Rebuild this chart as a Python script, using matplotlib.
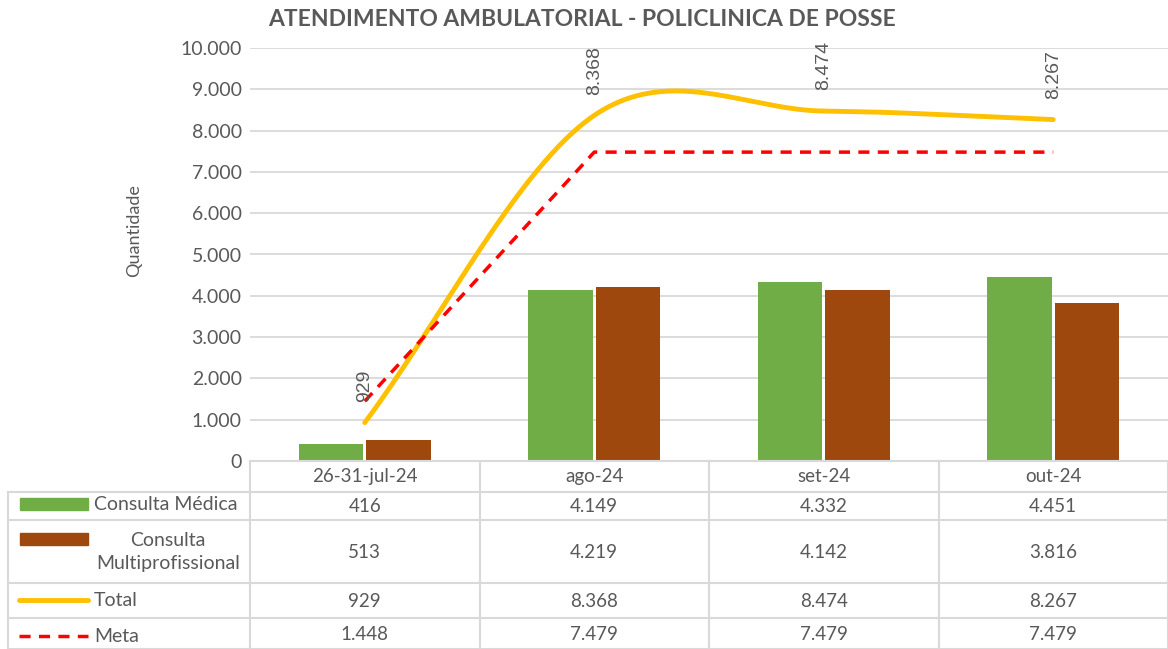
import numpy as np
import matplotlib.pyplot as plt
from matplotlib.patches import Rectangle
from matplotlib.lines import Line2D

categories = ["26-31-jul-24", "ago-24", "set-24", "out-24"]
consulta_medica = [416, 4149, 4332, 4451]
consulta_multi = [513, 4219, 4142, 3816]
total = [929, 8368, 8474, 8267]
meta = [1448, 7479, 7479, 7479]

GREEN = "#70AD47"
BROWN = "#9E480E"
YELLOW = "#FFC000"
RED = "#FF0000"
GRID = "#D9D9D9"
TXT = "#595959"

W, H = 1168, 649


def fmt(v):
    return f"{v:,}".replace(",", ".")


def smooth(y, n=60):
    # Catmull-Rom with reflected end points, close to Excel's smoothed line
    y = np.asarray(y, float)
    p = np.concatenate([[2 * y[0] - y[1]], y, [2 * y[-1] - y[-2]]])
    xs, ys = [], []
    for i in range(len(y) - 1):
        p0, p1, p2, p3 = p[i], p[i + 1], p[i + 2], p[i + 3]
        m1 = (p2 - p0) / 2
        m2 = (p3 - p1) / 2
        t = np.linspace(0, 1, n)
        h00 = 2 * t**3 - 3 * t**2 + 1
        h10 = t**3 - 2 * t**2 + t
        h01 = -2 * t**3 + 3 * t**2
        h11 = t**3 - t**2
        xs.append(i + t)
        ys.append(h00 * p1 + h10 * m1 + h01 * p2 + h11 * m2)
    return np.concatenate(xs), np.concatenate(ys)


plt.rcParams['font.family'] = ['Lato', 'DejaVu Sans']
fig = plt.figure(figsize=(W / 100, H / 100), dpi=100)

# main plot area in pixels
x0, x1, ytop, ybot = 250, 1168, 48, 461
ax = fig.add_axes([x0 / W, (H - ybot) / H, (x1 - x0) / W, (ybot - ytop) / H])

x = np.arange(len(categories))
bw = 0.28
ax.bar(x - 0.147, consulta_medica, bw, color=GREEN, zorder=2)
ax.bar(x + 0.147, consulta_multi, bw, color=BROWN, zorder=2)

sx, sy = smooth(total)
ax.plot(sx, sy, color=YELLOW, lw=3.5, solid_capstyle='round', zorder=3)
ax.plot(x, meta, color=RED, lw=2.5, dashes=(3.2, 2.4), zorder=3)

for xi, v in zip(x, total):
    ax.annotate(fmt(v), (xi, v), xytext=(0, 15), textcoords='offset points',
                rotation=90, ha='center', va='bottom', fontsize=14, color=TXT,
                family=['Liberation Sans', 'DejaVu Sans'])

ax.set_xlim(-0.5, len(categories) - 0.5)
ax.set_ylim(0, 10000)
ax.set_yticks(np.arange(0, 10001, 1000))
ax.set_yticklabels([fmt(v) for v in range(0, 10001, 1000)], fontsize=14, color=TXT)
ax.tick_params(axis='y', length=0, pad=6)
ax.set_xticks([])
ax.grid(axis='y', color=GRID, lw=1.3, zorder=0)
ax.set_axisbelow(True)
for s in ax.spines.values():
    s.set_visible(False)
ax.set_ylabel("Quantidade", fontsize=13, color=TXT)
ax.yaxis.set_label_coords(-0.117, 0.557)

fig.text(582 / W, 1 - 20 / H, "ATENDIMENTO AMBULATORIAL - POLICLINICA DE POSSE",
         ha='center', va='center', fontsize=16.5, fontweight='bold', color=TXT)

# data table below the plot, in pixel coordinates
tab = fig.add_axes([0, 0, 1, 1], facecolor='none')
tab.set_xlim(0, W)
tab.set_ylim(H, 0)
tab.axis('off')

rows = [461, 492, 520, 583, 618, 649]
colw = (x1 - x0) / len(categories)
cols = [x0 + i * colw for i in range(len(categories) + 1)]
lk = dict(color=GRID, lw=1.5)
tab.add_line(Line2D([x0, x1], [rows[0], rows[0]], **lk))
for r in rows[1:]:
    tab.add_line(Line2D([8, x1], [r, r], **lk))
tab.add_line(Line2D([8, 8], [rows[1], H], **lk))
for c in cols:
    tab.add_line(Line2D([c, c], [rows[0], H], **lk))

series = [consulta_medica, consulta_multi, total, meta]
for i, cat in enumerate(categories):
    cx = x0 + (i + 0.5) * colw
    tab.text(cx, (rows[0] + rows[1]) / 2, cat, ha='center', va='center', fontsize=13.5, color=TXT)
    for j, s in enumerate(series):
        tab.text(cx, (rows[j + 1] + rows[j + 2]) / 2 + 1, fmt(s[i]), ha='center', va='center',
                 fontsize=13.5, color=TXT)

# legend keys
tab.add_patch(Rectangle((20, 498), 68, 12, color=GREEN))
tab.add_patch(Rectangle((20, 533), 68, 12, color=BROWN))
tab.add_line(Line2D([19, 88], [600, 600], color=YELLOW, lw=3.5, solid_capstyle='round'))
tab.add_line(Line2D([19, 88], [636, 636], color=RED, lw=2.5, dashes=(3.2, 2.4)))
tab.text(94, 505, "Consulta Médica", ha='left', va='center', fontsize=14, color=TXT)
tab.text(168, 552, "Consulta\nMultiprofissional", ha='center', va='center', fontsize=14,
         color=TXT, linespacing=1.4)
tab.text(94, 601, "Total", ha='left', va='center', fontsize=14, color=TXT)
tab.text(94, 636, "Meta", ha='left', va='center', fontsize=14, color=TXT)

fig.savefig("out.png", dpi=100)
